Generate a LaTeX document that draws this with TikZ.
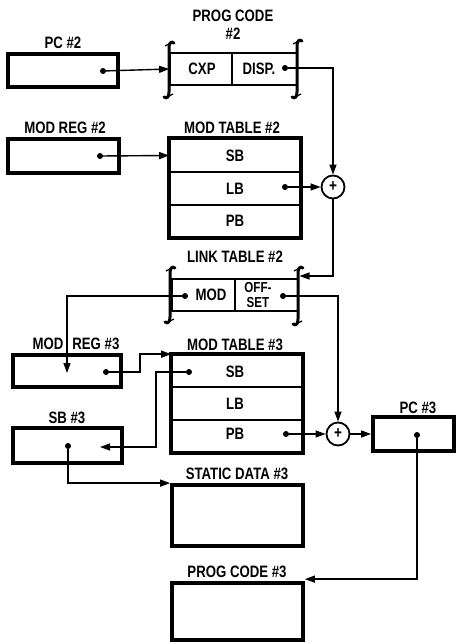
\documentclass[tikz,border=0pt]{standalone}
\usepackage{fontspec}
\setmainfont{Liberation Sans}[FakeStretch=0.8]
\usetikzlibrary{arrows.meta}
\tikzset{
  box/.style={draw, line width=3.8pt, inner sep=0pt},
  cell/.style={draw, line width=1.7pt, inner sep=0pt},
  lbl/.style={font=\bfseries\fontsize{16.5}{18}\selectfont, inner sep=0pt, align=center},
  dotnode/.style={circle, fill, inner sep=0pt, minimum size=6pt},
  conn/.style={line width=1.4pt, -{Triangle[length=10pt,width=7pt]}},
  plusnode/.style={circle, draw, line width=1.8pt, minimum size=23pt, inner sep=0pt, font=\bfseries\fontsize{17}{17}\selectfont},
  brk/.style={line width=3pt, line cap=round}
}
\newcommand\curlybrk[3]{%
  \draw[brk] ({#1+5},{#2+1}) .. controls ({#1+2},{#2-1}) and ({#1},{#2+1}) .. ({#1},{#2+6})
    -- ({#1},{#3-6}) .. controls ({#1},{#3-1}) and ({#1-2},{#3+1}) .. ({#1-5},{#3-1});
  \draw[line width=1.3pt] ({#1-4},{#2+4}) -- ({#1},{#2+2});
  \draw[line width=1.3pt] ({#1+4},{#3-4}) -- ({#1},{#3-2});
}
\begin{document}
\begin{tikzpicture}[x=1pt,y=-1pt]
\useasboundingbox (0,0) rectangle (456,643);

% ---------- PC #2 ----------
\node[lbl] (pc2l) at (63,43) {PC \#2};
\node[box, minimum width=110pt, minimum height=33pt] (pc2) at (63,70.5) {};
\node[dotnode] (pc2d) at (103,71) {};

% ---------- PROG CODE #2 ----------
\node[lbl] (pg2l) at (233,24.5) {PROG CODE\\\#2};
\node[cell, minimum width=62pt, minimum height=32pt] (cxp) at (201,69) {};
\node[cell, minimum width=65pt, minimum height=32pt] (disp) at (264.5,69) {};
\node[lbl] (cxpt) at (202,69) {CXP};
\node[lbl] (dispt) at (259,69) {DISP.};
\node[dotnode] (dispd) at (285,68) {};
\curlybrk{169}{42}{98}
\curlybrk{297}{40}{98}

% ---------- MOD REG #2 ----------
\node[lbl] (mr2l) at (65,128) {MOD REG \#2};
\node[box, minimum width=111pt, minimum height=34pt] (mr2) at (63.5,156) {};
\node[dotnode] (mr2d) at (100,156) {};

% ---------- MOD TABLE #2 ----------
\node[lbl] (mt2l) at (232,128) {MOD TABLE \#2};
\node[cell, minimum width=130pt, minimum height=33pt] (sb2) at (235,155.5) {};
\node[cell, minimum width=130pt, minimum height=33pt] (lb2) at (235,188.5) {};
\node[cell, minimum width=130pt, minimum height=32pt] (pb2) at (235,221) {};
\draw[line width=3.8pt] (sb2.north west) rectangle (pb2.south east);
\node[lbl] (sb2t) at (235,156) {SB};
\node[lbl] (lb2t) at (235,188.5) {LB};
\node[lbl] (pb2t) at (235,221) {PB};
\node[dotnode] (lb2d) at (285,187) {};

\node[plusnode] (p1) at (333,187) {+};

% ---------- LINK TABLE #2 ----------
\node[lbl] (lt2l) at (235,257) {LINK TABLE \#2};
\node[cell, minimum width=63pt, minimum height=32pt] (modc) at (203.5,295) {};
\node[cell, minimum width=63pt, minimum height=32pt] (offc) at (266.5,295) {};
\node[lbl] (modt) at (211,295) {MOD};
\node[lbl, font=\bfseries\fontsize{14.5}{14}\selectfont] (offt1) at (258,288) {OFF-};
\node[lbl, font=\bfseries\fontsize{14.5}{14}\selectfont] (offt2) at (258,302.5) {SET};
\node[dotnode] (modd) at (185,296) {};
\node[dotnode] (offd) at (283,296) {};
\curlybrk{170}{267}{323}
\curlybrk{298}{267}{325}
\coordinate (lt2in) at (299.5,276);

% ---------- MOD REG #3 ----------
\node[lbl] (mr3l) at (76,344) {MOD\hspace{9pt}REG \#3};
\node[box, minimum width=108pt, minimum height=32pt] (mr3) at (67,371) {};
\node[dotnode] (mr3d) at (106,372) {};
\coordinate (mr3in) at (67,373);
\coordinate (k1) at (140,372);

% ---------- MOD TABLE #3 ----------
\node[lbl] (mt3l) at (235,345) {MOD TABLE \#3};
\node[cell, minimum width=130pt, minimum height=32pt] (sb3r) at (237,371) {};
\node[cell, minimum width=130pt, minimum height=33pt] (lb3r) at (237,403.5) {};
\node[cell, minimum width=130pt, minimum height=32pt] (pb3r) at (237,436) {};
\draw[line width=3.8pt] (sb3r.north west) rectangle (pb3r.south east);
\node[lbl] (sb3t) at (235,372) {SB};
\node[lbl] (lb3t) at (235,403.5) {LB};
\node[lbl] (pb3t) at (235,434) {PB};
\node[dotnode] (sb3rd) at (189,372) {};
\node[dotnode] (pb3d) at (286,434) {};
\coordinate (k2) at (156,447);

\node[plusnode] (p2) at (338,434) {+};

% ---------- PC #3 ----------
\node[lbl] (pc3l) at (418,408) {PC \#3};
\node[box, minimum width=81pt, minimum height=34pt] (pc3) at (413.5,434) {};
\node[dotnode] (pc3d) at (417,435) {};

% ---------- SB #3 ----------
\node[lbl] (sb3l) at (67,418) {SB \#3};
\node[box, minimum width=109pt, minimum height=35pt] (sbx3) at (67.5,445.5) {};
\node[dotnode] (sbx3d) at (68,446) {};
\coordinate (sbx3in) at (100,447);

% ---------- STATIC DATA #3 ----------
\node[lbl] (sd3l) at (237,474) {STATIC DATA \#3};
\node[box, minimum width=131pt, minimum height=61pt] (sd3) at (237.5,515.5) {};

% ---------- PROG CODE #3 ----------
\node[lbl] (pg3l) at (237,572) {PROG CODE \#3};
\node[box, minimum width=131pt, minimum height=57pt] (pg3) at (237.5,611.5) {};

% ---------- connectors ----------
\draw[conn] (pc2d) -- (cxp.west);
\draw[conn] (dispd) -| (p1.north);
\draw[conn] (mr2d) -- (sb2.west);
\draw[conn] (lb2d) -- (p1.west);
\draw[conn] (p1.south) |- (lt2in);
\draw[conn] (modd) -| (mr3in);
\draw[conn] (offd) -| (p2.north);
\draw[conn] (mr3d) -- (k1) |- (sb3r.north west);
\draw[conn] (sb3rd) -| (k2) -- (sbx3in);
\draw[conn] (pb3d) -- (p2.west);
\draw[conn] (p2.east) -- (pc3.west);
\draw[conn] (pc3d) |- ([yshift=2pt]pg3.north east);
\draw[conn] (sbx3d) |- (sd3.north west);
\end{tikzpicture}
\end{document}
